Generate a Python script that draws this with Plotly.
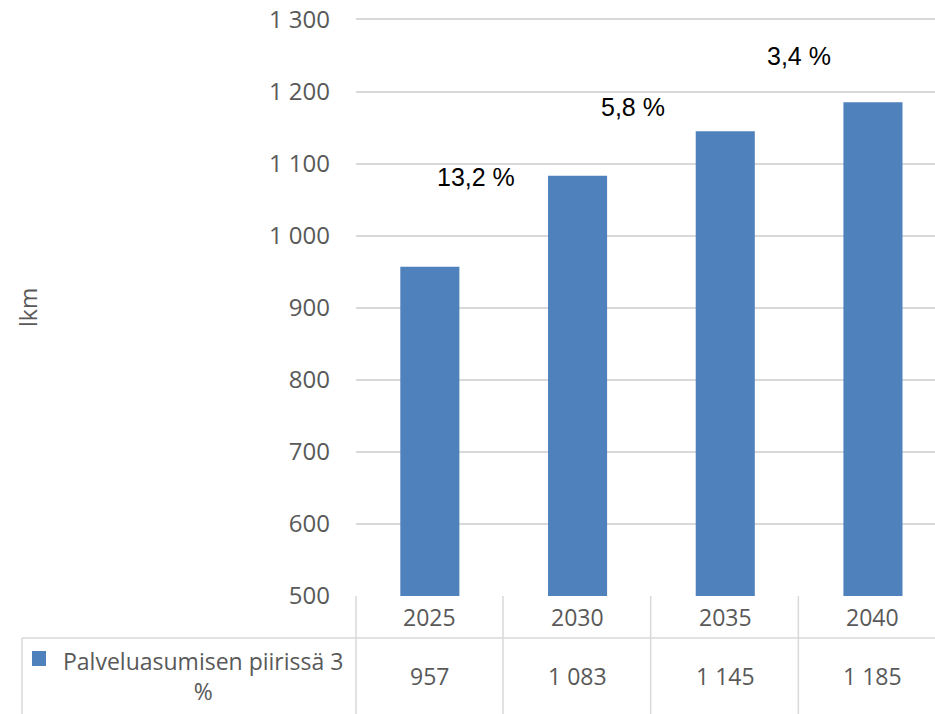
import plotly.graph_objects as go

years = ["2025", "2030", "2035", "2040"]
values = [957, 1083, 1145, 1185]
growth_labels = ["13,2 %", "5,8 %", "3,4 %"]
series_name = "Palveluasumisen piirissä 3<br>%"
y_ticks = [500, 600, 700, 800, 900, 1000, 1100, 1200, 1300]

BLUE = "#4f81bd"
GREY = "#595959"
GRID = "#d9d9d9"
FONT = "Open Sans"


def fmt(v):
    return f"{v:,}".replace(",", " ")


x_pos = list(range(len(years)))

fig = go.Figure()
fig.add_trace(go.Bar(
    x=x_pos,
    y=values,
    marker=dict(color=BLUE, line=dict(width=0)),
    width=0.4,
    showlegend=False,
))

# growth labels sit between the bars
growth_x = [0.31, 1.375, 2.5]
growth_y = [1081, 1179, 1249]
annotations = []
for gx, gy, txt in zip(growth_x, growth_y, growth_labels):
    annotations.append(dict(
        x=gx, y=gy, xref="x", yref="y", text=txt, showarrow=False,
        xanchor="center", yanchor="middle",
        font=dict(family="Liberation Sans, Arial", size=25, color="#000000"),
    ))

# data table below the plot (plot area is 578 px tall)
PH = 578.0
row1_y = -21 / PH
row2_y = -80 / PH
for i, (yr, v) in enumerate(zip(years, values)):
    annotations.append(dict(
        x=i, y=row1_y, xref="x", yref="paper", text=yr, showarrow=False,
        xanchor="center", yanchor="middle",
        font=dict(family=FONT, size=23, color=GREY),
    ))
    annotations.append(dict(
        x=i, y=row2_y, xref="x", yref="paper", text=fmt(v), showarrow=False,
        xanchor="center", yanchor="middle",
        font=dict(family=FONT, size=23, color=GREY),
    ))

annotations.append(dict(
    x=-0.264, y=-80 / PH, xref="paper", yref="paper", text=series_name,
    showarrow=False, align="center", xanchor="center", yanchor="middle",
    font=dict(family=FONT, size=23, color=GREY),
))

annotations.append(dict(
    x=-0.5665, y=0.5, xref="paper", yref="paper", text="lkm",
    showarrow=False, textangle=-90, xanchor="center", yanchor="middle",
    font=dict(family=FONT, size=23, color=GREY),
))

line = dict(color=GRID, width=1.5)
sep_y = -42 / PH
bottom_y = -130 / PH
shapes = [
    # header row vertical line at plot edge
    dict(type="line", xref="paper", yref="paper", x0=0, x1=0, y0=0, y1=bottom_y, line=line),
    # row separator
    dict(type="line", xref="paper", yref="paper", x0=-0.5769, x1=1, y0=sep_y, y1=sep_y, line=line),
    # left edge of legend cell
    dict(type="line", xref="paper", yref="paper", x0=-0.5769, x1=-0.5769, y0=sep_y, y1=bottom_y, line=line),
    # legend key
    dict(type="rect", xref="paper", yref="paper", x0=-0.5596, x1=-0.5354, y0=-55 / PH, y1=-70 / PH,
         fillcolor=BLUE, line=dict(width=0)),
]
for k in range(len(years) - 1):
    shapes.append(dict(type="line", xref="x", yref="paper", x0=k + 0.495, x1=k + 0.495,
                       y0=0, y1=bottom_y, line=line))

fig.update_layout(
    width=935,
    height=714,
    margin=dict(l=356, r=0, t=18, b=118),
    plot_bgcolor="white",
    paper_bgcolor="white",
    separators=", ",
    annotations=annotations,
    shapes=shapes,
    xaxis=dict(
        range=[-0.5, 3.42],
        showticklabels=False,
        showgrid=False,
        zeroline=False,
        showline=False,
        fixedrange=True,
    ),
    yaxis=dict(
        range=[500, 1302],
        tickvals=y_ticks,
        tickformat=",",
        showgrid=True,
        gridcolor=GRID,
        gridwidth=1.5,
        zeroline=False,
        showline=False,
        ticklabelstandoff=25,
        tickfont=dict(family=FONT, size=24, color=GREY),
    ),
)

# drop the browser's default body margin so the chart sits at the page corner
fig.write_html("out.html", config={"displayModeBar": False},
               post_script="document.body.style.margin='0px';")
